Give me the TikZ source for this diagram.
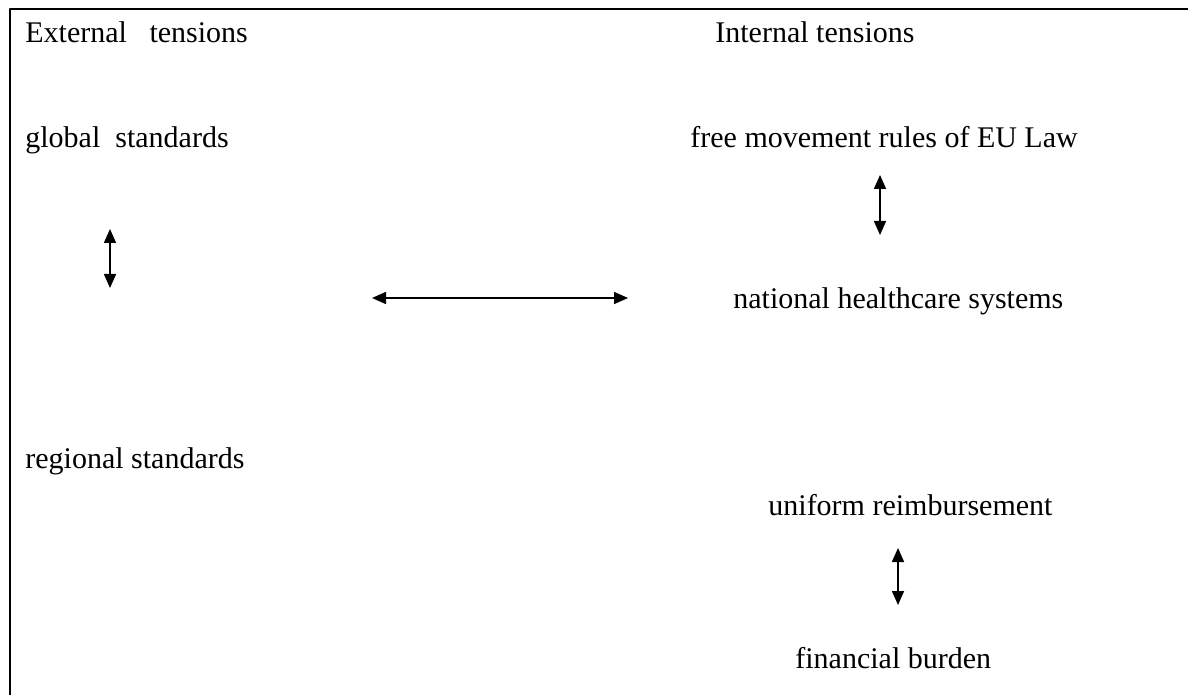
\documentclass[tikz,border=0pt]{standalone}
\usepackage{fontspec}
\setmainfont{Liberation Serif}
\usetikzlibrary{arrows.meta}
\tikzset{
  label text/.style={anchor=base west, inner sep=0pt, font=\fontsize{15}{18}\selectfont},
  twoway/.style={line width=0.8pt, {Triangle[width=6pt,length=7pt]}-{Triangle[width=6pt,length=7pt]}}
}
\begin{document}
\begin{tikzpicture}[x=0.5pt,y=-0.5pt,line cap=round,line join=round]
    \useasboundingbox (0,0) rectangle (1188,695);
    % frame, cut at right and bottom
    \draw[line width=1pt,line cap=butt] (10,695) -- (10,9) -- (1188,9);
    % column heads
    \node[label text] (ext) at (25,43) {External\ \ \ tensions};
    \node[label text] (int) at (715,43) {Internal tensions};
    % external side
    \node[label text] (glob) at (25,148) {global\ \ standards};
    \node[label text] (reg) at (25,468) {regional standards};
    \coordinate (globtop) at (110,229);
    \coordinate (globbot) at (110,288);
    \draw[twoway] (globtop) -- (globbot);
    % between both sides
    \coordinate (midleft) at (372,298);
    \coordinate (midright) at (628,298);
    \draw[twoway] (midleft) -- (midright);
    % internal side
    \node[label text] (free) at (690,148) {free movement rules of EU Law};
    \node[label text] (nat) at (733,308) {national healthcare systems};
    \node[label text] (unif) at (768,515) {uniform reimbursement};
    \node[label text] (fin) at (795,668) {financial burden};
    \coordinate (freebot) at (880,175);
    \coordinate (nattop) at (880,235);
    \draw[twoway] (freebot) -- (nattop);
    \coordinate (unifbot) at (898,548);
    \coordinate (fintop) at (898,605);
    \draw[twoway] (unifbot) -- (fintop);
\end{tikzpicture}
\end{document}
